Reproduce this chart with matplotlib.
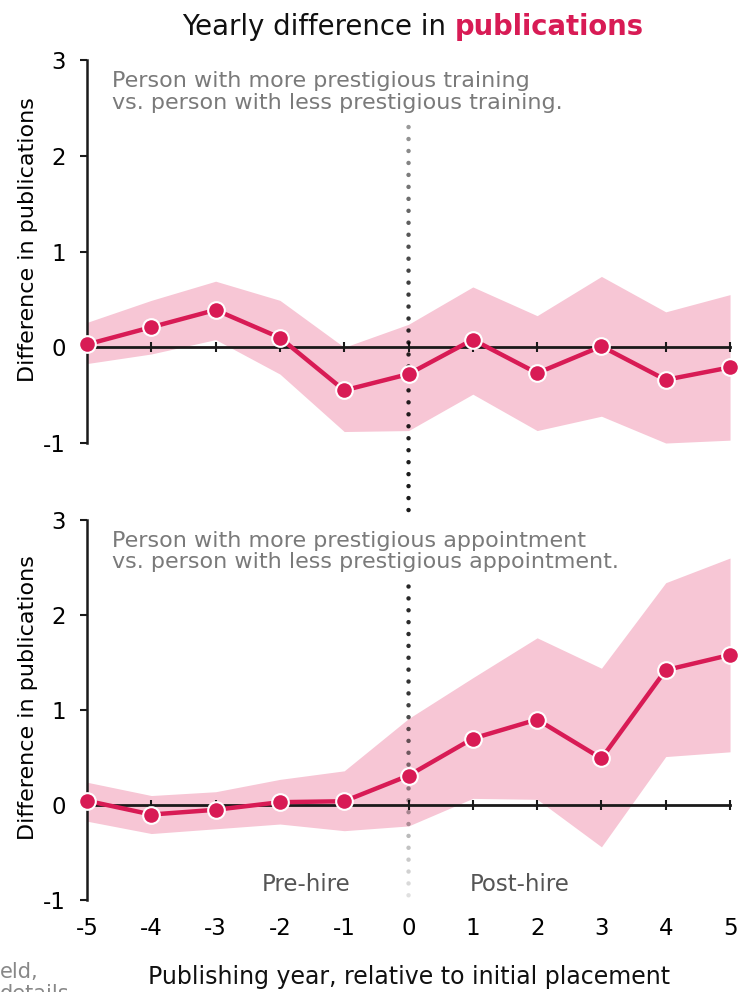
import numpy as np
import matplotlib.pyplot as plt

plt.rcParams['font.family'] = ['DejaVu Sans']

# values
years = [-5, -4, -3, -2, -1, 0, 1, 2, 3, 4, 5]

training_diff = [0.03, 0.21, 0.39, 0.10, -0.45, -0.28, 0.08, -0.27, 0.01, -0.34, -0.21]
training_hi = [0.26, 0.49, 0.69, 0.49, 0.0, 0.24, 0.63, 0.33, 0.74, 0.37, 0.55]
training_lo = [-0.17, -0.07, 0.08, -0.28, -0.88, -0.87, -0.49, -0.87, -0.72, -1.0, -0.97]

appoint_diff = [0.045, -0.10, -0.05, 0.03, 0.04, 0.31, 0.70, 0.90, 0.49, 1.42, 1.58]
appoint_hi = [0.24, 0.10, 0.14, 0.27, 0.36, 0.91, 1.34, 1.76, 1.44, 2.34, 2.60]
appoint_lo = [-0.17, -0.30, -0.25, -0.20, -0.27, -0.22, 0.07, 0.06, -0.44, 0.51, 0.56]

y_ticks = [-1, 0, 1, 2, 3]

RED = '#D81B55'
BAND = '#F7C6D5'
GRAY = '#7a7a7a'


def draw_panel(ax, diff, lo, hi, note, dot_top, dot_bottom, alpha_pts):
    ax.set_xlim(-5, 5)
    ax.set_ylim(-1, 3)
    ax.fill_between(years, lo, hi, color=BAND, lw=0, zorder=1)

    # dotted reference line at hire year, fading in/out
    ys = np.arange(dot_top, dot_bottom - 0.01, -0.125)
    al = np.interp(ys, alpha_pts[0], alpha_pts[1])
    cols = np.zeros((len(ys), 4))
    cols[:, 3] = al
    ax.scatter(np.zeros_like(ys), ys, s=10, c=cols, lw=0, zorder=2, clip_on=False)

    ax.plot(years, diff, color=RED, lw=3.2, marker='o', ms=12,
            mfc=RED, mec='white', mew=1.5, zorder=4, clip_on=False)

    for s in ['top', 'right']:
        ax.spines[s].set_visible(False)
    ax.spines['bottom'].set_position(('data', 0))
    ax.spines['bottom'].set_linewidth(2)
    ax.spines['bottom'].set_color('#1a1a1a')
    ax.spines['bottom'].set_zorder(3)
    ax.spines['left'].set_bounds(-1, 3)
    ax.spines['left'].set_linewidth(1.8)
    ax.spines['left'].set_color('#1a1a1a')

    ax.set_xticks(years)
    ax.tick_params(axis='x', direction='inout', length=7, width=1.5,
                   color='#1a1a1a', labelbottom=False)
    ax.set_yticks(y_ticks)
    ax.set_yticklabels([str(v) for v in y_ticks])
    ax.tick_params(axis='y', direction='out', length=5, width=1.5,
                   color='#1a1a1a', labelsize=16.5, pad=10)

    ax.set_ylabel('Difference in publications', fontsize=16)
    ax.yaxis.set_label_coords(-0.076, 0.532)

    ax.text(-4.61, 2.49, note, fontsize=16, color=GRAY, ha='left',
            va='baseline', linespacing=1.1)


fig = plt.figure(figsize=(7.47, 9.92), dpi=100)
ax1 = fig.add_axes([0.1165, 0.5534, 0.8608, 0.3861])
ax2 = fig.add_axes([0.1165, 0.0927, 0.8608, 0.3831])

draw_panel(ax1, training_diff, training_lo, training_hi,
           'Person with more prestigious training\nvs. person with less prestigious training.',
           2.3, -1.72, ([-1.72, 0.0, 1.0, 2.3], [0.9, 0.85, 0.7, 0.4]))
draw_panel(ax2, appoint_diff, appoint_lo, appoint_hi,
           'Person with more prestigious appointment\nvs. person with less prestigious appointment.',
           2.3, -0.95, ([-0.95, 0.0, 1.2, 2.3], [0.12, 0.35, 0.8, 0.85]))

sec = ax2.secondary_xaxis('bottom')
sec.set_xticks(years)
sec.set_xticklabels([str(v) for v in years])
sec.spines['bottom'].set_visible(False)
sec.tick_params(length=0, labelsize=16.5, pad=12)

ax2.text(-1.59, -0.84, 'Pre-hire', fontsize=16.5, color='#555555', ha='center', va='center')
ax2.text(1.73, -0.84, 'Post-hire', fontsize=16.5, color='#555555', ha='center', va='center')

fig.text(0.547, 1 - 977 / 992, 'Publishing year, relative to initial placement',
         fontsize=17, ha='center', va='center', color='#111111')

fig.text(455 / 747, 1 - 35 / 992, 'Yearly difference in ', fontsize=19.8,
         ha='right', va='baseline', color='#111111')
fig.text(455 / 747, 1 - 35 / 992, 'publications', fontsize=19.8, fontweight='bold',
         ha='left', va='baseline', color=RED)

# cropped side note from the original figure
fig.text(0.0, 1 - 978 / 992, 'eld,', fontsize=15, color='#888888',
         ha='left', va='baseline')
fig.text(0.0, 1 - 1000 / 992, 'details', fontsize=15, color='#888888',
         ha='left', va='baseline')

fig.savefig('out.png', dpi=100)
